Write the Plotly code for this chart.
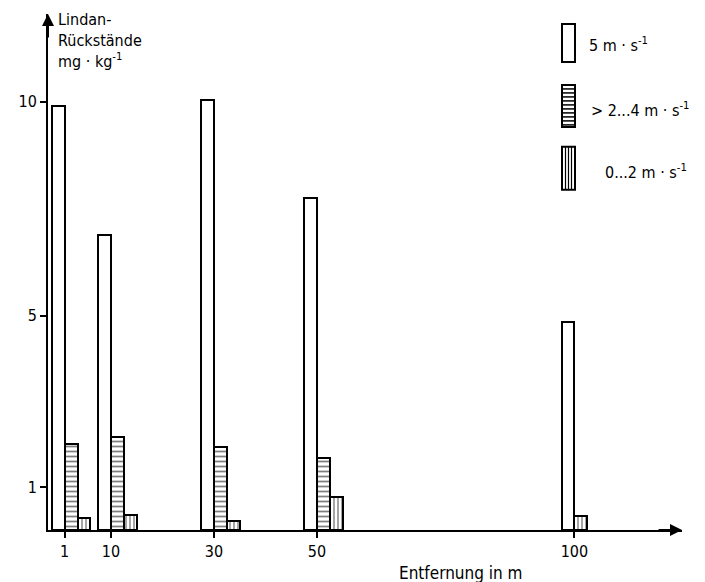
import plotly.graph_objects as go

# ---- data ----
distances = [1, 10, 30, 50, 100]
wind_high = [9.9, 6.9, 10.05, 7.75, 4.85]          # 5 m/s (white)
dist_mid = [1, 10, 30, 50]
wind_mid = [2.02, 2.18, 1.93, 1.69]               # >2...4 m/s (horizontal hatch)
dist_low = [1, 10, 30, 50, 100]
wind_low = [0.27, 0.34, 0.2, 0.78, 0.32]          # 0...2 m/s (vertical hatch)
yticks = [1, 5, 10]
legend_labels = ["5 m · s<sup>-1</sup>", "> 2...4 m · s<sup>-1</sup>", "0...2 m · s<sup>-1</sup>"]

FONT = "Liberation Sans Narrow, DejaVu Sans Condensed, Liberation Sans, DejaVu Sans"
OFF = 8  # page body margin
W, H = 705 - OFF, 582 - OFF
# plot area in page pixels: left 48, right 682, top 14, bottom 530.5
L, T = 48 - OFF, 14 - OFF
R = W - (682 - OFF)
B = H - (530.5 - OFF)
BW = 2.5

fig = go.Figure()
line = dict(color="black", width=2)
fig.add_trace(go.Bar(x=distances, y=wind_high, width=BW, offset=-BW,
                     marker=dict(color="white", line=line), showlegend=False))
fig.add_trace(go.Bar(x=dist_mid, y=wind_mid, width=BW, offset=0,
                     marker=dict(color="white", line=line,
                                 pattern=dict(shape="-", size=5, solidity=0.35,
                                              fgcolor="black", bgcolor="white")),
                     showlegend=False))
fig.add_trace(go.Bar(x=dist_low, y=wind_low, width=BW,
                     offset=[BW if d in dist_mid else 0 for d in dist_low],
                     marker=dict(color="white", line=line,
                                 pattern=dict(shape="|", size=4, solidity=0.35,
                                              fgcolor="black", bgcolor="white")),
                     showlegend=False))

pw, ph = W - L - R, H - T - B
def px(xp):  # page pixel -> paper
    return (xp - OFF - L) / pw
def py(yp):
    return (H - B - (yp - OFF)) / ph

shapes = []
annotations = []
# custom legend
rects = [(562, 575, 24, 62), (562, 575, 85, 127), (562, 575, 147, 190)]
text_pos = [(587, 45), (589, 110), (603, 172)]
for i, ((x0, x1, y0, y1), (tx, ty), lab) in enumerate(zip(rects, text_pos, legend_labels)):
    shapes.append(dict(type="rect", xref="paper", yref="paper",
                       x0=px(x0), x1=px(x1), y0=py(y1), y1=py(y0),
                       line=dict(color="black", width=2), fillcolor="white"))
    if i == 1:
        yy = y0 + 4
        while yy < y1 - 1:
            shapes.append(dict(type="line", xref="paper", yref="paper",
                               x0=px(x0), x1=px(x1), y0=py(yy), y1=py(yy),
                               line=dict(color="black", width=1.5)))
            yy += 4
    if i == 2:
        for xx in [x0 + 3.5, x0 + 6.5, x0 + 9.5]:
            shapes.append(dict(type="line", xref="paper", yref="paper",
                               x0=px(xx), x1=px(xx), y0=py(y1), y1=py(y0),
                               line=dict(color="black", width=1.2)))
    annotations.append(dict(xref="paper", yref="paper", x=px(tx), y=py(ty),
                            xanchor="left", yanchor="middle", showarrow=False,
                            text=lab, font=dict(family=FONT, size=16, color="black")))

# axis titles
annotations.append(dict(xref="paper", yref="paper", x=px(56), y=py(8),
                        xanchor="left", yanchor="top", align="left", showarrow=False,
                        text="Lindan-<br>Rückstände<br>mg · kg<sup>-1</sup>",
                        font=dict(family=FONT, size=16, color="black")))
annotations.append(dict(xref="paper", yref="paper", x=px(461), y=py(574),
                        xanchor="center", yanchor="middle", showarrow=False,
                        text="Entfernung in m",
                        font=dict(family=FONT, size=17, color="black")))
# axis arrows
annotations.append(dict(xref="paper", yref="paper", x=0, y=1, ax=0, ay=25,
                        showarrow=True, arrowhead=2, arrowsize=1.2, arrowwidth=2,
                        arrowcolor="black", text=""))
annotations.append(dict(xref="paper", yref="paper", x=1, y=0, ax=-25, ay=0,
                        showarrow=True, arrowhead=2, arrowsize=1.2, arrowwidth=2,
                        arrowcolor="black", text=""))

fig.update_layout(
    width=W, height=H, margin=dict(l=L, r=R, t=T, b=B, pad=0),
    paper_bgcolor="white", plot_bgcolor="white",
    barmode="overlay", bargap=0,
    shapes=shapes, annotations=annotations,
    font=dict(family=FONT, size=15, color="black"),
)
fig.update_xaxes(range=[-2.23, 120.9], tickvals=distances, ticks="outside", ticklen=6,
                 tickwidth=1.5, tickcolor="black", showline=True, linecolor="black",
                 linewidth=2, showgrid=False, zeroline=False,
                 tickfont=dict(family=FONT, size=16, color="black"))
fig.update_yaxes(range=[0, 12.05], tickvals=yticks, ticks="outside", ticklen=6,
                 tickwidth=1.5, tickcolor="black", showline=True, linecolor="black",
                 linewidth=2, showgrid=False, zeroline=False,
                 tickfont=dict(family=FONT, size=16, color="black"))

fig.write_html("out.html")
